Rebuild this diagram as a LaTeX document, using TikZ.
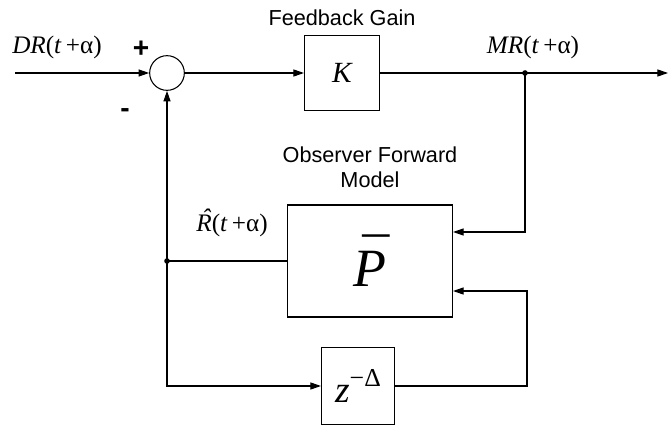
\documentclass[tikz,border=0pt]{standalone}
\usepackage{fontspec}
\setmainfont{Liberation Sans}
\newfontfamily\tms{Liberation Serif}
\usetikzlibrary{positioning,arrows.meta}

\begin{document}
\begin{tikzpicture}[x=0.03cm, y=-0.03cm, line width=0.9pt,
    every node/.style={font=\fontsize{18.5}{21}\selectfont},
    block/.style={draw, line width=0.9pt, inner sep=0pt},
    sumnode/.style={draw, circle, line width=0.9pt, minimum size=1.04cm, inner sep=0pt},
    sig/.style={-{Triangle[length=9pt,width=6pt]}},
    mathlab/.style={font=\fontsize{21.5}{24}\tms\selectfont}]
    \useasboundingbox (0,0) rectangle (671,426);

    % 1. blocks of the loop
    \node[block, minimum width=2.25cm, minimum height=2.25cm,
          font=\fontsize{25}{28}\tms\itshape\selectfont] (gain) at (342,73) {K};
    \node[sumnode] (sum) at (167,73) {};
    \node[block, minimum width=4.95cm, minimum height=3.36cm,
          font=\fontsize{46}{50}\tms\itshape\selectfont] (obs) at (370,261)
          {\rlap{\hspace{0.09em}\raisebox{0.2em}{¯}}P};
    \node[block, minimum width=2.19cm, minimum height=2.31cm,
          font=\fontsize{32}{36}\tms\itshape\selectfont] (delay) at (358,386)
          {z\raisebox{0.45em}{\fontsize{22}{24}\upshape\selectfont −Δ}};

    % 2. free ends and branch points
    \coordinate (in) at (15,73);
    \coordinate (out) at (668,73);
    \coordinate (split) at (525,73);
    \coordinate (tap) at (167,261);
    \coordinate (ret) at (527,386);

    % 3. forward path
    \draw[sig] (in) -- (sum);
    \draw[sig] (sum) -- (gain);
    \draw[sig] (gain) -- (out);

    % 4. observer loop
    \draw[sig] (split) |- ([yshift=0.87cm]obs.east);
    \draw[sig] (delay.east) -- (ret) |- ([yshift=-0.9cm]obs.east);
    \draw (obs.west) -- (tap);
    \draw[sig] (tap) -- (sum);
    \draw[sig] (tap) |- (delay.west);
    \fill (split) circle (2.4pt);
    \fill (tap) circle (2.4pt);

    % 5. labels
    \node[mathlab] (drlab) at (57,47) {\textit{DR}(\textit{t}\,+α)};
    \node[mathlab] (mrlab) at (533,47) {\textit{MR}(\textit{t}\,+α)};
    \node[mathlab] (rlab) at (232,223)
          {\textit{\rlap{\hspace{0.22em}\raisebox{0.22em}{ˆ}}R}(\textit{t}\,+α)};
    \node (gainlab) at (342,18) {Feedback Gain};
    \node[align=center, font=\fontsize{18.5}{21.5}\selectfont] (obslab) at (370,167) {Observer Forward\\Model};
    \node[font=\fontsize{24}{26}\selectfont\bfseries] (plus) at (141,49) {+};
    \node[font=\fontsize{24}{26}\selectfont\bfseries] (minus) at (125,113) {-};
\end{tikzpicture}
\end{document}
